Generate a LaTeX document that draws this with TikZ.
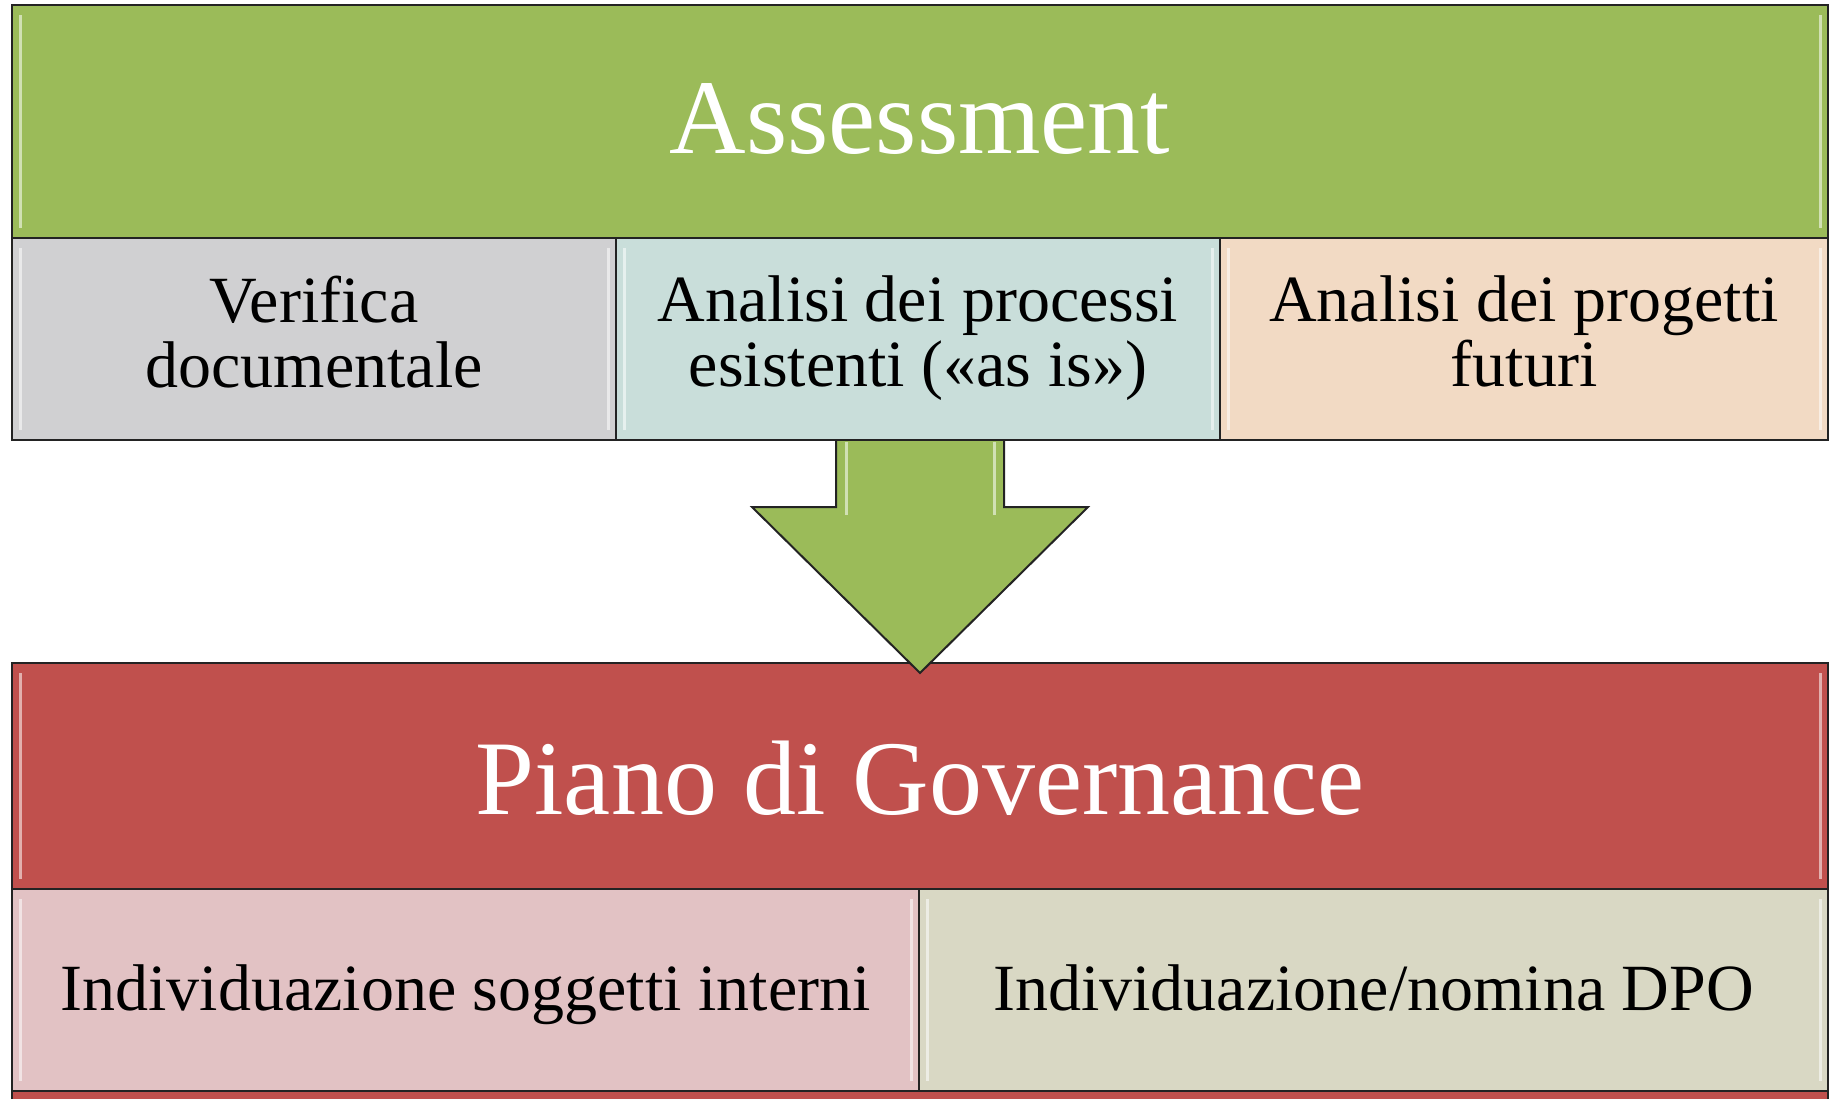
\documentclass[tikz,border=0pt]{standalone}
\usepackage{fontspec}
\setmainfont{Liberation Serif}
\usepackage{tikz}

\definecolor{boxline}{RGB}{35,35,35}
\definecolor{assessgreen}{RGB}{155,187,89}
\definecolor{govred}{RGB}{192,80,77}
\definecolor{cellgrey}{RGB}{208,208,210}
\definecolor{cellteal}{RGB}{201,222,218}
\definecolor{cellpeach}{RGB}{242,218,196}
\definecolor{cellpink}{RGB}{226,194,196}
\definecolor{cellbeige}{RGB}{217,216,196}

\newcommand{\cellstrut}{\rule[-15pt]{0pt}{71pt}}

\tikzset{
  bevel/.style={path picture={
      \draw[white, opacity=0.55, line width=3pt]
        ([xshift=8pt,yshift=-10pt]path picture bounding box.north west)
        -- ([xshift=8pt,yshift=10pt]path picture bounding box.south west);
      \draw[white, opacity=0.55, line width=3pt]
        ([xshift=-8pt,yshift=-10pt]path picture bounding box.north east)
        -- ([xshift=-8pt,yshift=10pt]path picture bounding box.south east);
    }},
  bar/.style={draw=boxline, line width=2pt, inner sep=0pt, text=white, bevel,
              font=\fontsize{106}{110}\selectfont,
              execute at begin node={\rule[-20pt]{0pt}{#1}}},
  cell/.style={draw=boxline, line width=2pt, inner sep=0pt, align=center, bevel,
               minimum height=202, font=\fontsize{66}{65}\selectfont,
               execute at begin node=\cellstrut, execute at end node=\cellstrut},
}

\begin{document}
\begin{tikzpicture}[x=1pt, y=-1pt]
  \useasboundingbox (0,0) rectangle (1833,1098);

  % assessment block
  \fill[assessgreen, draw=boxline, line width=2pt] (12,5) rectangle (1828,440);
  \node[bar=103pt, minimum width=1816, minimum height=233] (assess) at (920,121.5) {Assessment};
  \node[cell, fill=cellgrey, minimum width=604] (verifica) at (314,339)
    {Verifica\\documentale};
  \node[cell, fill=cellteal, minimum width=604] (processi) at (918,339)
    {Analisi dei processi\\esistenti («as is»)};
  \node[cell, fill=cellpeach, minimum width=608] (progetti) at (1524,339)
    {Analisi dei progetti\\futuri};

  % governance block
  \fill[govred, draw=boxline, line width=2pt] (12,663) rectangle (1828,1120);
  \node[bar=116pt, minimum width=1816, minimum height=226] (gov) at (920,776) {Piano di Governance};
  \node[cell, fill=cellpink, minimum width=907] (interni) at (465.5,990)
    {Individuazione soggetti interni};
  \node[cell, fill=cellbeige, minimum width=909] (dpo) at (1373.5,990)
    {Individuazione/nomina DPO};

  % arrow between the blocks
  \coordinate (tip) at (920,673);
  \draw[boxline, line width=2pt, fill=assessgreen, line join=miter]
    (836,441) -- (836,507) -- (752,507) -- (tip) -- (1088,507)
    -- (1004,507) -- (1004,441);
  \draw[white, opacity=0.55, line width=3pt] (846,442) -- (846,515) (994,442) -- (994,515);
\end{tikzpicture}
\end{document}
